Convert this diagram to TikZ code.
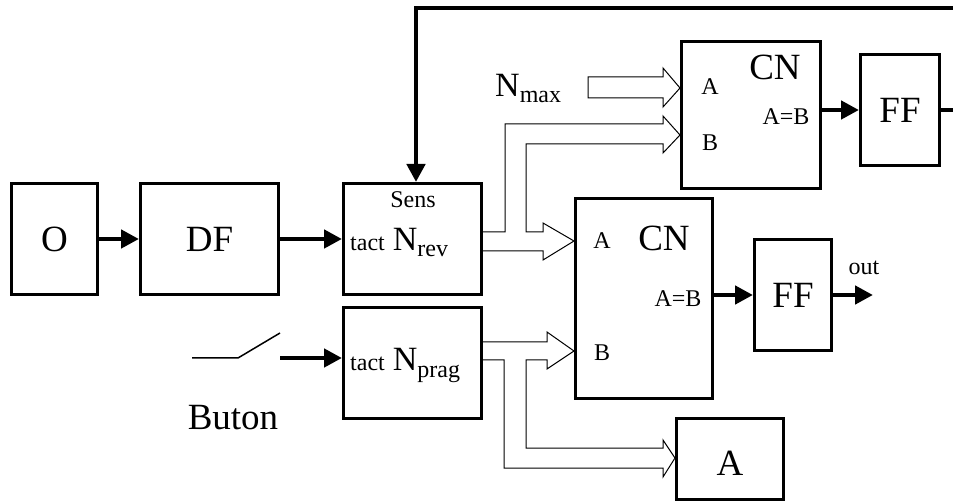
\documentclass[tikz,border=0pt]{standalone}
\usepackage{fontspec}
\setmainfont{Liberation Serif}
\usetikzlibrary{positioning,arrows.meta}
\newcommand{\fbig}{\fontsize{37pt}{37pt}\selectfont}
\newcommand{\fsml}{\fontsize{24pt}{24pt}\selectfont}
\newcommand{\fN}{\fontsize{34pt}{34pt}\selectfont}
\newcommand{\Nsub}[1]{{\fN N}\raisebox{-6pt}{\fsml #1}}

\begin{document}
\begin{tikzpicture}[x=1pt, y=-1pt, node distance = 40pt]
            \tikzstyle{block} = [draw=black, line width=3pt, inner sep=0pt, font=\fbig];
            \tikzstyle{lbl} = [inner sep=0pt, font=\fsml];
            \tikzstyle{wire} = [line width=4.5pt, -{Triangle[length=18pt, width=18pt]}];
            \tikzstyle{bus} = [line width=1pt, line join=miter];
            \useasboundingbox (0,0) rectangle (953,502);

            % main chain
            \node [block, minimum width=86pt, minimum height=111pt] (O) at (54.5,239) {O};
            \node [block, minimum width=138pt, minimum height=111pt, right = of O] (DF) {DF};
            \node [block, minimum width=138pt, minimum height=111pt, right = 62pt of DF] (Nrev) {};
            \node [block, minimum width=138pt, minimum height=111pt, below = 10pt of Nrev] (Nprag) {};
            \node [block, minimum width=137pt, minimum height=200pt] (CNlo) at (644,298.5) {};
            \node [block, minimum width=77pt, minimum height=111pt] (FFlo) at (793,295) {FF};
            \node [block, minimum width=139pt, minimum height=147pt] (CNup) at (751,115) {};
            \node [block, minimum width=79pt, minimum height=111pt] (FFup) at (900,110) {FF};
            \node [block, minimum width=107pt, minimum height=81pt] (Abox) at (730,459) {};

            % texts inside the boxes
            \node [lbl, font=\fbig] (aTxt) at (730,463) {A};
            \node [lbl] (sens) at (413,200) {Sens};
            \node [lbl, anchor=base west] (rev) at (350,251) {tact\hspace{8pt}\Nsub{rev}};
            \node [lbl, anchor=base west] (prag) at (350,371) {tact\hspace{8pt}\Nsub{prag}};
            \node [lbl] (loA) at (602,241) {A};
            \node [lbl, font=\fbig] (loCN) at (664,238) {CN};
            \node [lbl] (loEq) at (678,299) {A=B};
            \node [lbl] (loB) at (602,353) {B};
            \node [lbl] (upA) at (710,87) {A};
            \node [lbl, font=\fbig] (upCN) at (775,67) {CN};
            \node [lbl] (upEq) at (786,117) {A=B};
            \node [lbl] (upB) at (710,143) {B};
            \node [lbl, anchor=base west] (nmax) at (495,97) {\Nsub{max}};
            \node [lbl] (out) at (864,268) {out};
            \node [lbl, font=\fbig] (buton) at (233,418) {Buton};

            % switch
            \coordinate (swA) at (192,358);
            \coordinate (swB) at (238,358);
            \coordinate (swC) at (280,333);
            \coordinate (btn) at (280,358);
            \draw [line width=1.5pt] (swA) -- (swB) -- (swC);

            % thick wires
            \draw [wire] (O) -- (DF);
            \draw [wire] (DF) -- (Nrev);
            \draw [wire] (btn) -- (btn -| Nprag.west);
            \draw [wire] (CNlo.east |- FFlo.west) -- (FFlo.west);
            \draw [wire] (CNup.east |- FFup.west) -- (FFup.west);
            \coordinate (outEnd) at (873,295);
            \draw [wire] (FFlo.east) -- (outEnd);
            \coordinate (fbR) at (953,110);
            \coordinate (fbT) at (953,8);
            \coordinate (fbL) at (416,8);
            \draw [line width=4.5pt] (FFup.east) -- (fbR);
            \draw [wire] (fbT) -- (fbL) -- (fbL |- Nrev.north);

            % hollow buses
            \draw [bus] (588,77) -- (663,77) -- (663,68) -- (CNup.west |- 0,88) -- (663,107) -- (663,98) -- (588,98) -- cycle;
            \draw [bus] (Nrev.east |- 0,232) -- (505,232) -- (505,124) -- (663,124) -- (663,116) -- (CNup.west |- 0,135)
                -- (663,153) -- (663,144) -- (526,144) -- (526,232) -- (543,232) -- (543,223) -- (CNlo.west |- 0,241)
                -- (543,260) -- (543,251) -- (Nrev.east |- 0,251);
            \draw [bus] (Nprag.east |- 0,342) -- (547,342) -- (547,332) -- (CNlo.west |- 0,351) -- (547,369) -- (547,360)
                -- (526,360) -- (526,448) -- (663,448) -- (663,440) -- (Abox.west |- 0,458) -- (663,477) -- (663,468)
                -- (504,468) -- (504,360) -- (Nprag.east |- 0,360);

        \end{tikzpicture}
\end{document}
